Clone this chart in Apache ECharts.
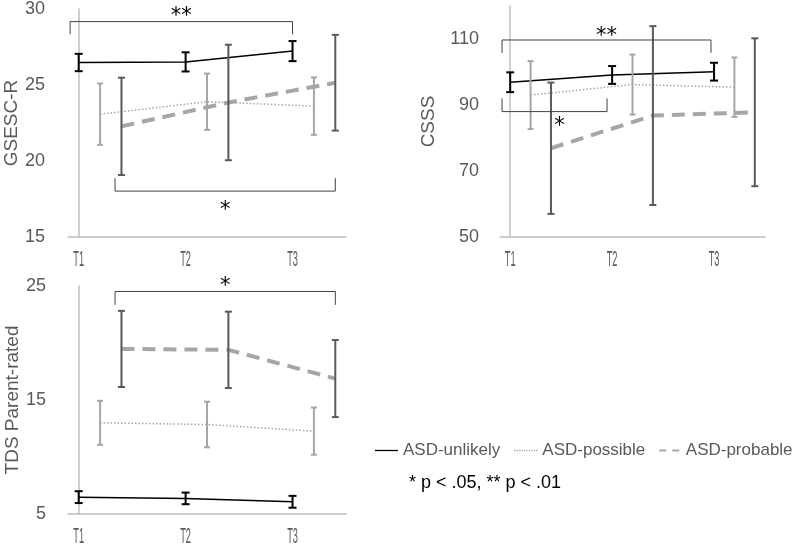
<!DOCTYPE html>
<html><head><meta charset="utf-8">
<script src="https://cdn.jsdelivr.net/npm/echarts@6/dist/echarts.min.js"></script>
<style>html,body{margin:0;padding:0;background:#fff}#c{width:797px;height:546px}</style>
</head><body><div id="c"></div>
<script>
const categories = ['T1', 'T2', 'T3'];
const groups = ['ASD-unlikely', 'ASD-possible', 'ASD-probable'];
const groupOffsets = [0, 0.2, 0.4];

const gsescUnlikelyMean = [26.48, 26.52, 27.23];
const gsescUnlikelyErr = [0.57, 0.63, 0.66];
const gsescPossibleMean = [23.08, 23.9, 23.61];
const gsescPossibleErr = [2.02, 1.85, 1.89];
const gsescProbableMean = [22.28, 23.85, 25.15];
const gsescProbableErr = [3.2, 3.8, 3.15];

const csssUnlikelyMean = [96.9, 99.1, 100.1];
const csssUnlikelyErr = [3.0, 2.7, 2.7];
const csssPossibleMean = [93.0, 96.2, 95.4];
const csssPossibleErr = [10.3, 9.1, 9.0];
const csssProbableMean = [76.9, 86.8, 87.8];
const csssProbableErr = [19.9, 27.1, 22.4];

const tdsUnlikelyMean = [6.48, 6.37, 6.07];
const tdsUnlikelyErr = [0.52, 0.51, 0.52];
const tdsPossibleMean = [13.0, 12.85, 12.27];
const tdsPossibleErr = [1.93, 2.0, 2.07];
const tdsProbableMean = [19.48, 19.4, 16.88];
const tdsProbableErr = [3.34, 3.35, 3.38];

// significance brackets in data units: [x1, x2, barY, tipY]
const gsescBrackets = [[-0.08, 2.0, 29.17, 28.33], [0.34, 2.4, 18.02, 18.87]];
const gsescBracketLabels = ['**', '*'];
const csssBrackets = [[-0.08, 1.97, 109.7, 105.8], [-0.08, 0.95, 88.0, 92.0]];
const csssBracketLabels = ['**', '*'];
const tdsBrackets = [[0.34, 2.4, 24.52, 23.35]];
const tdsBracketLabels = ['*'];

const yNames = ['GSESC-R', 'CSSS', 'TDS Parent-rated'];
const noteText = '* p < .05, ** p < .01';

// label pixel nudges (style only)
const gsescLabelNudge = [[0, -5], [0, 19]];
const csssLabelNudge = [[0, -3.5], [5, 15]];
const tdsLabelNudge = [[0, -5]];

const chart = echarts.init(document.getElementById('c'), null, {renderer: 'canvas'});

const grey = '#595959';
const axisGrey = '#bfbfbf';
const lineStyles = [
  {color: '#000000', width: 1.5, type: 'solid'},
  {color: '#a6a6a6', width: 1.5, type: [1.5, 2]},
  {color: '#a6a6a6', width: 4, type: [13, 8]}
];
const errColors = ['#000000', '#a6a6a6', '#595959'];
const capHalf = [4, 3, 3.5];

function xAxisFor(i) {
  return {
    type: 'value', gridIndex: i, min: -0.1, max: 2.5,
    axisLine: {show: true, lineStyle: {color: axisGrey, width: 1.5}},
    axisTick: {show: false}, splitLine: {show: false}, axisLabel: {show: false}
  };
}
function yAxisFor(i, min, max, interval, gap, margin, showMax) {
  return {
    type: 'value', gridIndex: i, min: min, max: max, interval: interval,
    name: yNames[i], nameLocation: 'middle', nameRotate: 90, nameGap: gap,
    nameTextStyle: {color: grey, fontSize: 19, fontFamily: 'Liberation Sans, Arial, sans-serif'},
    axisLine: {show: true, lineStyle: {color: axisGrey, width: 1.5}},
    axisTick: {show: false}, splitLine: {show: false},
    axisLabel: {color: grey, fontSize: 18, margin: margin, showMaxLabel: showMax,
      fontFamily: 'Liberation Sans, Arial, sans-serif'}
  };
}

const series = [];
function addPanel(gi, means, errs, brackets, labels, nudges) {
  for (let g = 0; g < 3; g++) {
    series.push({
      type: 'line', name: groups[g], xAxisIndex: gi, yAxisIndex: gi,
      data: means[g].map((m, i) => [i + groupOffsets[g], m]),
      symbol: 'none', lineStyle: lineStyles[g], itemStyle: {color: lineStyles[g].color},
      z: 2, silent: true, animation: false
    });
  }
  for (let g = 0; g < 3; g++) {
    series.push({
      type: 'custom', xAxisIndex: gi, yAxisIndex: gi, z: 3, silent: true, animation: false,
      data: means[g].map((m, i) => [i + groupOffsets[g], m - errs[g][i], m + errs[g][i]]),
      encode: {x: 0, y: [1, 2]},
      renderItem: (params, api) => {
        const x = api.value(0);
        const lo = api.coord([x, api.value(1)]);
        const hi = api.coord([x, api.value(2)]);
        const st = {stroke: errColors[g], lineWidth: 2};
        const h = capHalf[g];
        return {type: 'group', children: [
          {type: 'line', shape: {x1: lo[0], y1: lo[1], x2: hi[0], y2: hi[1]}, style: st},
          {type: 'line', shape: {x1: lo[0] - h, y1: lo[1], x2: lo[0] + h, y2: lo[1]}, style: st},
          {type: 'line', shape: {x1: hi[0] - h, y1: hi[1], x2: hi[0] + h, y2: hi[1]}, style: st}
        ]};
      }
    });
  }
  // category labels under the x axis (condensed look)
  series.push({
    type: 'custom', xAxisIndex: gi, yAxisIndex: gi, z: 5, silent: true, animation: false, clip: false,
    data: categories.map((c, i) => [i, 0]),
    encode: {x: 0},
    renderItem: (params, api) => {
      const p = api.coord([api.value(0), 0]);
      const cs = params.coordSys;
      return {type: 'text', x: p[0], y: cs.y + cs.height + 23, scaleX: 0.42,
        style: {text: categories[params.dataIndex], fill: grey,
          font: '22px Liberation Sans, Arial, sans-serif', align: 'center', verticalAlign: 'middle'}};
    }
  });
  series.push({
    type: 'custom', xAxisIndex: gi, yAxisIndex: gi, z: 4, silent: true, animation: false, clip: false,
    data: brackets.map((b, k) => [b[0], b[1], b[2], b[3], k]),
    encode: {x: [0, 1], y: [2, 3]},
    renderItem: (params, api) => {
      const x1 = api.value(0), x2 = api.value(1), y = api.value(2), t = api.value(3);
      const k = api.value(4);
      const a = api.coord([x1, t]), b = api.coord([x1, y]), c = api.coord([x2, y]), d = api.coord([x2, t]);
      const nd = nudges[k];
      return {type: 'group', children: [
        {type: 'polyline', shape: {points: [a, b, c, d]}, style: {stroke: '#404040', lineWidth: 1, fill: null}},
        {type: 'text', x: (b[0] + c[0]) / 2 + nd[0], y: b[1] + nd[1],
          style: {text: labels[k], fill: '#000', font: '21px DejaVu Sans, sans-serif',
            align: 'center', verticalAlign: 'middle'}}
      ]};
    }
  });
}

addPanel(0, [gsescUnlikelyMean, gsescPossibleMean, gsescProbableMean],
  [gsescUnlikelyErr, gsescPossibleErr, gsescProbableErr], gsescBrackets, gsescBracketLabels, gsescLabelNudge);
addPanel(1, [csssUnlikelyMean, csssPossibleMean, csssProbableMean],
  [csssUnlikelyErr, csssPossibleErr, csssProbableErr], csssBrackets, csssBracketLabels, csssLabelNudge);
addPanel(2, [tdsUnlikelyMean, tdsPossibleMean, tdsProbableMean],
  [tdsUnlikelyErr, tdsPossibleErr, tdsProbableErr], tdsBrackets, tdsBracketLabels, tdsLabelNudge);

function dotPath() {
  let s = 'path://';
  for (let k = 0; k < 10; k++) s += 'M' + (k * 2.5) + ',0h1.3v1.3h-1.3z';
  return s;
}

chart.setOption({
  animation: false,
  grid: [
    {left: 68, top: 7, width: 278, height: 230},
    {left: 500, top: 6, width: 265, height: 231},
    {left: 68, top: 286, width: 278, height: 228}
  ],
  xAxis: [xAxisFor(0), xAxisFor(1), xAxisFor(2)],
  yAxis: [yAxisFor(0, 15, 30, 5, 42, 23, true), yAxisFor(1, 50, 120, 20, 62, 21, false),
          yAxisFor(2, 5, 25, 10, 42, 22, true)],
  legend: {
    left: 375, top: 442, padding: 0, itemWidth: 23, itemHeight: 2, itemGap: 14,
    itemStyle: {borderWidth: 0},
    textStyle: {color: grey, fontSize: 17, fontFamily: 'Liberation Sans, Arial, sans-serif'},
    data: [
      {name: groups[0], icon: 'path://M0,0H23V1.3H0Z', itemStyle: {color: '#000000', borderWidth: 0}},
      {name: groups[1], icon: dotPath(), itemStyle: {color: '#a6a6a6', borderWidth: 0}},
      {name: groups[2], icon: 'path://M0,0h7v2h-7zM13,0h7v2h-7z', itemStyle: {color: '#a6a6a6', borderWidth: 0}}
    ]
  },
  graphic: [{
    type: 'text', left: 409, top: 474,
    style: {text: noteText, fill: '#000', font: '18px Liberation Sans, Arial, sans-serif'}
  }],
  series: series
});
</script></body></html>
